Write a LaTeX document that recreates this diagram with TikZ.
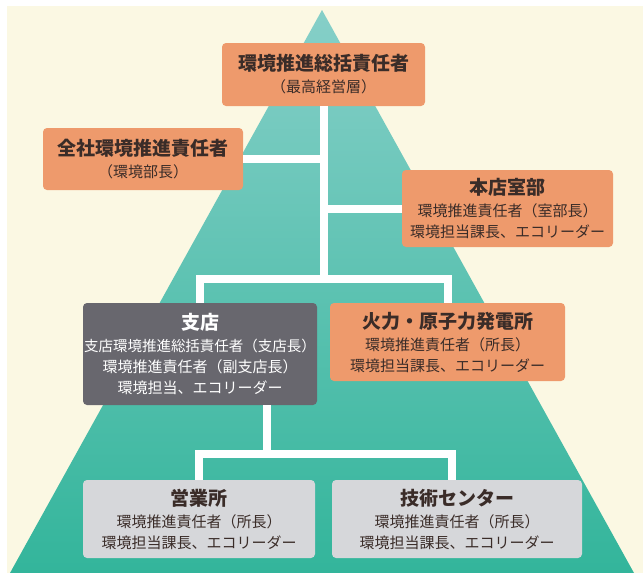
\documentclass[tikz,border=0pt]{standalone}
\usepackage{fontspec}
\newfontfamily\jp{Noto Sans CJK JP}
\definecolor{creamC}{HTML}{FBF8E3}
\definecolor{tealTop}{HTML}{86CFC8}
\definecolor{tealBot}{HTML}{33B59B}
\definecolor{orangeC}{HTML}{EE9A6C}
\definecolor{darkboxC}{HTML}{68676E}
\definecolor{lightboxC}{HTML}{D6D7DA}
\definecolor{inkC}{HTML}{3A2C28}
\tikzset{
  box/.style={rounded corners=4pt, inner sep=0pt, align=center,
    font=\jp\fontsize{15}{21}\selectfont},
  orangebox/.style={box, fill=orangeC, text=inkC},
  darkbox/.style={box, fill=darkboxC, text=white},
  lightbox/.style={box, fill=lightboxC, text=inkC},
  conn/.style={draw=white, line width=8pt}
}
\newcommand{\ttlfont}{\bfseries\fontsize{19}{21}\selectfont}
\begin{document}
\begin{tikzpicture}[x=1pt,y=-1pt]
\useasboundingbox (0,0) rectangle (643,573);
\fill[white] (0,0) rectangle (643,573);
\fill[creamC] (7,6) rectangle (643,573);
\shade[top color=tealTop, bottom color=tealBot] (322,10) -- (634,573) -- (10,573) -- cycle;

\node[orangebox, minimum width=203pt, minimum height=63pt] (top) at (323.5,74.5)
  {{\ttlfont 環境推進総括責任者}\\[1pt]（最高経営層）};
\node[orangebox, minimum width=200pt, minimum height=62pt] (zensha) at (143,159)
  {{\ttlfont 全社環境推進責任者}\\[1pt]（環境部長）};
\node[orangebox, minimum width=211pt, minimum height=77pt] (honten) at (507.5,208.5)
  {{\ttlfont 本店室部}\\[1pt]環境推進責任者（室部長）\\環境担当課長、エコリーダー};
\node[darkbox, minimum width=234pt, minimum height=102pt] (shiten) at (200,354)
  {{\ttlfont 支店}\\[1pt]{\fontsize{14.5}{21}\selectfont 支店環境推進総括責任者（支店長）}\\環境推進責任者（副支店長）\\環境担当、エコリーダー};
\node[orangebox, minimum width=235pt, minimum height=78pt] (karyoku) at (447.5,342)
  {{\ttlfont 火力・原子力発電所}\\[1pt]環境推進責任者（所長）\\環境担当課長、エコリーダー};
\node[lightbox, minimum width=232pt, minimum height=78pt] (eigyo) at (199,519)
  {{\ttlfont 営業所}\\[1pt]環境推進責任者（所長）\\環境担当課長、エコリーダー};
\node[lightbox, minimum width=250pt, minimum height=78pt] (gijutsu) at (457,519)
  {{\ttlfont 技術センター}\\[1pt]環境推進責任者（所長）\\環境担当課長、エコリーダー};

\coordinate (j1) at (323.5,279);
\coordinate (sb) at (267,454);
\draw[conn] (top.south) -- (j1);
\draw[conn] (zensha.east) -- (zensha.east -| top.south);
\draw[conn] (honten.west) -- (honten.west -| top.south);
\draw[conn] (shiten.north) |- (j1) -| (karyoku.north);
\draw[conn] (shiten.south -| sb) -- (sb);
\draw[conn] (eigyo.north) |- (sb) -| ([xshift=-5pt]gijutsu.north);
\end{tikzpicture}
\end{document}
